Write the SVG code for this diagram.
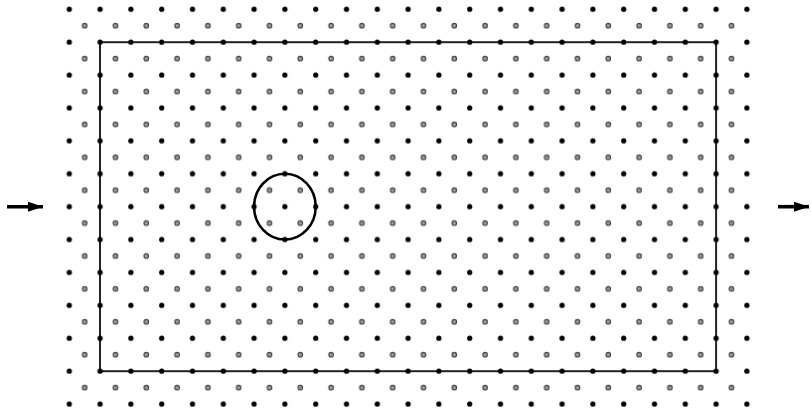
<svg xmlns="http://www.w3.org/2000/svg" width="811" height="412" viewBox="0 0 811 412">
<style>
.frame{fill:none;stroke:#222;stroke-width:2}
.ring{fill:none;stroke:#000;stroke-width:2.5}
.arr{stroke:#000;stroke-width:3.6;fill:none}
</style>
<defs>
<pattern id="lattice" patternUnits="userSpaceOnUse" x="61.6" y="1.1" width="30.8" height="32.9">
<circle cx="7.7" cy="8.2" r="2.6" fill="#000"/>
<circle cx="23.1" cy="24.65" r="2.3" fill="#9a9a9a" stroke="#444" stroke-width="1.1"/>
</pattern>
<marker id="head" markerUnits="userSpaceOnUse" markerWidth="16" markerHeight="12" refX="15" refY="5" orient="auto">
<polygon points="0,0 15,5 0,10" fill="#000"/>
</marker>
</defs>
<rect width="811" height="412" fill="#fff"/>
<g id="box"><rect class="frame" x="100" y="42.2" width="616.1" height="329"/></g>
<g id="lattice-points"><rect x="61.6" y="1.1" width="693" height="411" fill="url(#lattice)"/></g>
<g id="circle"><ellipse class="ring" cx="284.9" cy="206.7" rx="30.8" ry="32.9"/></g>
<g id="connectors">
<path class="arr" d="M7,206.7 H43" marker-end="url(#head)"/>
<path class="arr" d="M778,206.7 H809" marker-end="url(#head)"/>
</g>
</svg>
